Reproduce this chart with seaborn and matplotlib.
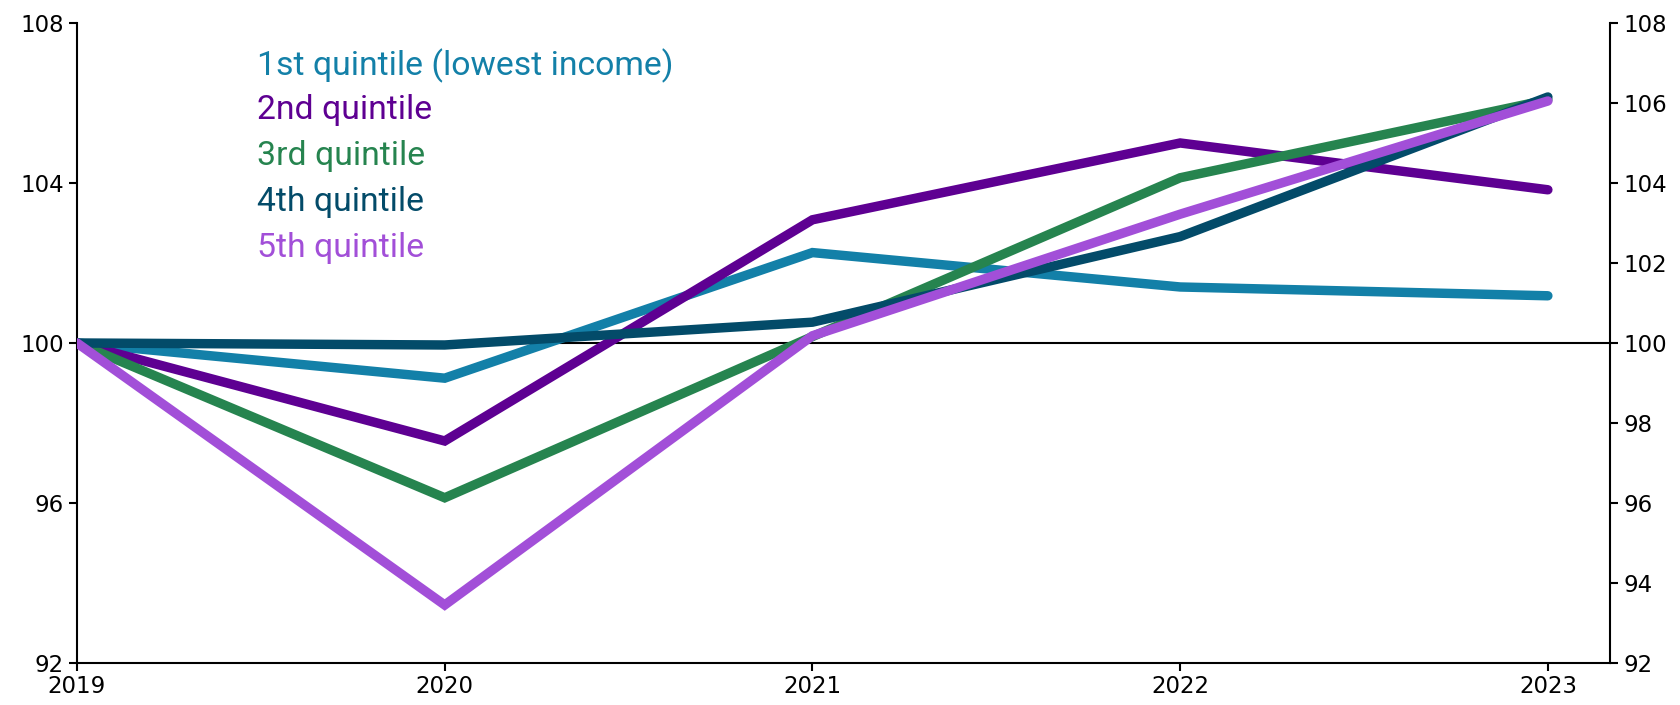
import pandas as pd
import seaborn as sns
import matplotlib.pyplot as plt

# -------------------------
# Data (index, 2019 = 100)
# -------------------------
years = [2019, 2020, 2021, 2022, 2023]
groups = ["1st quintile (lowest income)", "2nd quintile", "3rd quintile",
          "4th quintile", "5th quintile"]
q1 = [100.0, 99.12, 102.26, 101.4, 101.18]
q2 = [100.0, 97.55, 103.08, 105.0, 103.83]
q3 = [100.0, 96.13, 100.16, 104.13, 106.08]
q4 = [100.0, 99.95, 100.52, 102.66, 106.15]
q5 = [100.0, 93.45, 100.18, 103.22, 106.05]
colors = ["#1380a8", "#5e0092", "#26844f", "#034b69", "#a24fd8"]

left_ticks = [92, 96, 100, 104, 108]
right_ticks = [92, 94, 96, 98, 100, 102, 104, 106, 108]

df = pd.DataFrame({"year": years * 5,
                   "group": [g for g in groups for _ in years],
                   "value": q1 + q2 + q3 + q4 + q5})

sns.set_style("white")
plt.rcParams["font.family"] = ["DejaVu Sans"]

fig = plt.figure(figsize=(16.81, 7.05), dpi=100)
ax = fig.add_axes([0.0458, 0.0596, 0.9122, 0.9078])

ax.axhline(100, color="black", lw=1.5, zorder=1)
sns.lineplot(data=df, x="year", y="value", hue="group", hue_order=groups,
             palette=colors, linewidth=6.8, legend=False, ax=ax, zorder=3)
for ln in ax.get_lines()[1:]:
    ln.set_solid_capstyle("round")
    ln.set_solid_joinstyle("miter")

ax.set_xlim(2019, 2023.17)
ax.set_ylim(92, 108)
ax.set_xticks(years)
ax.set_xticklabels([str(y) for y in years])
ax.set_yticks(left_ticks)
ax.set_xlabel("")
ax.set_ylabel("")

for s in ["top", "right"]:
    ax.spines[s].set_visible(False)
for s in ["left", "bottom"]:
    ax.spines[s].set_color("black")
    ax.spines[s].set_linewidth(1.5)
ax.tick_params(axis="both", direction="out", length=6, width=1.5,
               labelsize=16.5, colors="black", left=True, bottom=True)
ax.tick_params(axis="x", pad=3)

ax2 = ax.twinx()
ax2.set_ylim(92, 108)
ax2.set_yticks(right_ticks)
for s in ["top", "left", "bottom"]:
    ax2.spines[s].set_visible(False)
ax2.spines["right"].set_color("black")
ax2.spines["right"].set_linewidth(1.5)
ax2.tick_params(axis="y", direction="out", length=6, width=1.5,
                labelsize=16.5, colors="black", right=True)

# legend as coloured text
legend_y = [106.93, 105.83, 104.68, 103.52, 102.38]
for g, c, y in zip(groups, colors, legend_y):
    ax.text(2019.49, y, g, color=c, fontsize=24.3, va="center", ha="left",
            family=["Roboto", "DejaVu Sans"])

fig.savefig("out.png", dpi=100)
